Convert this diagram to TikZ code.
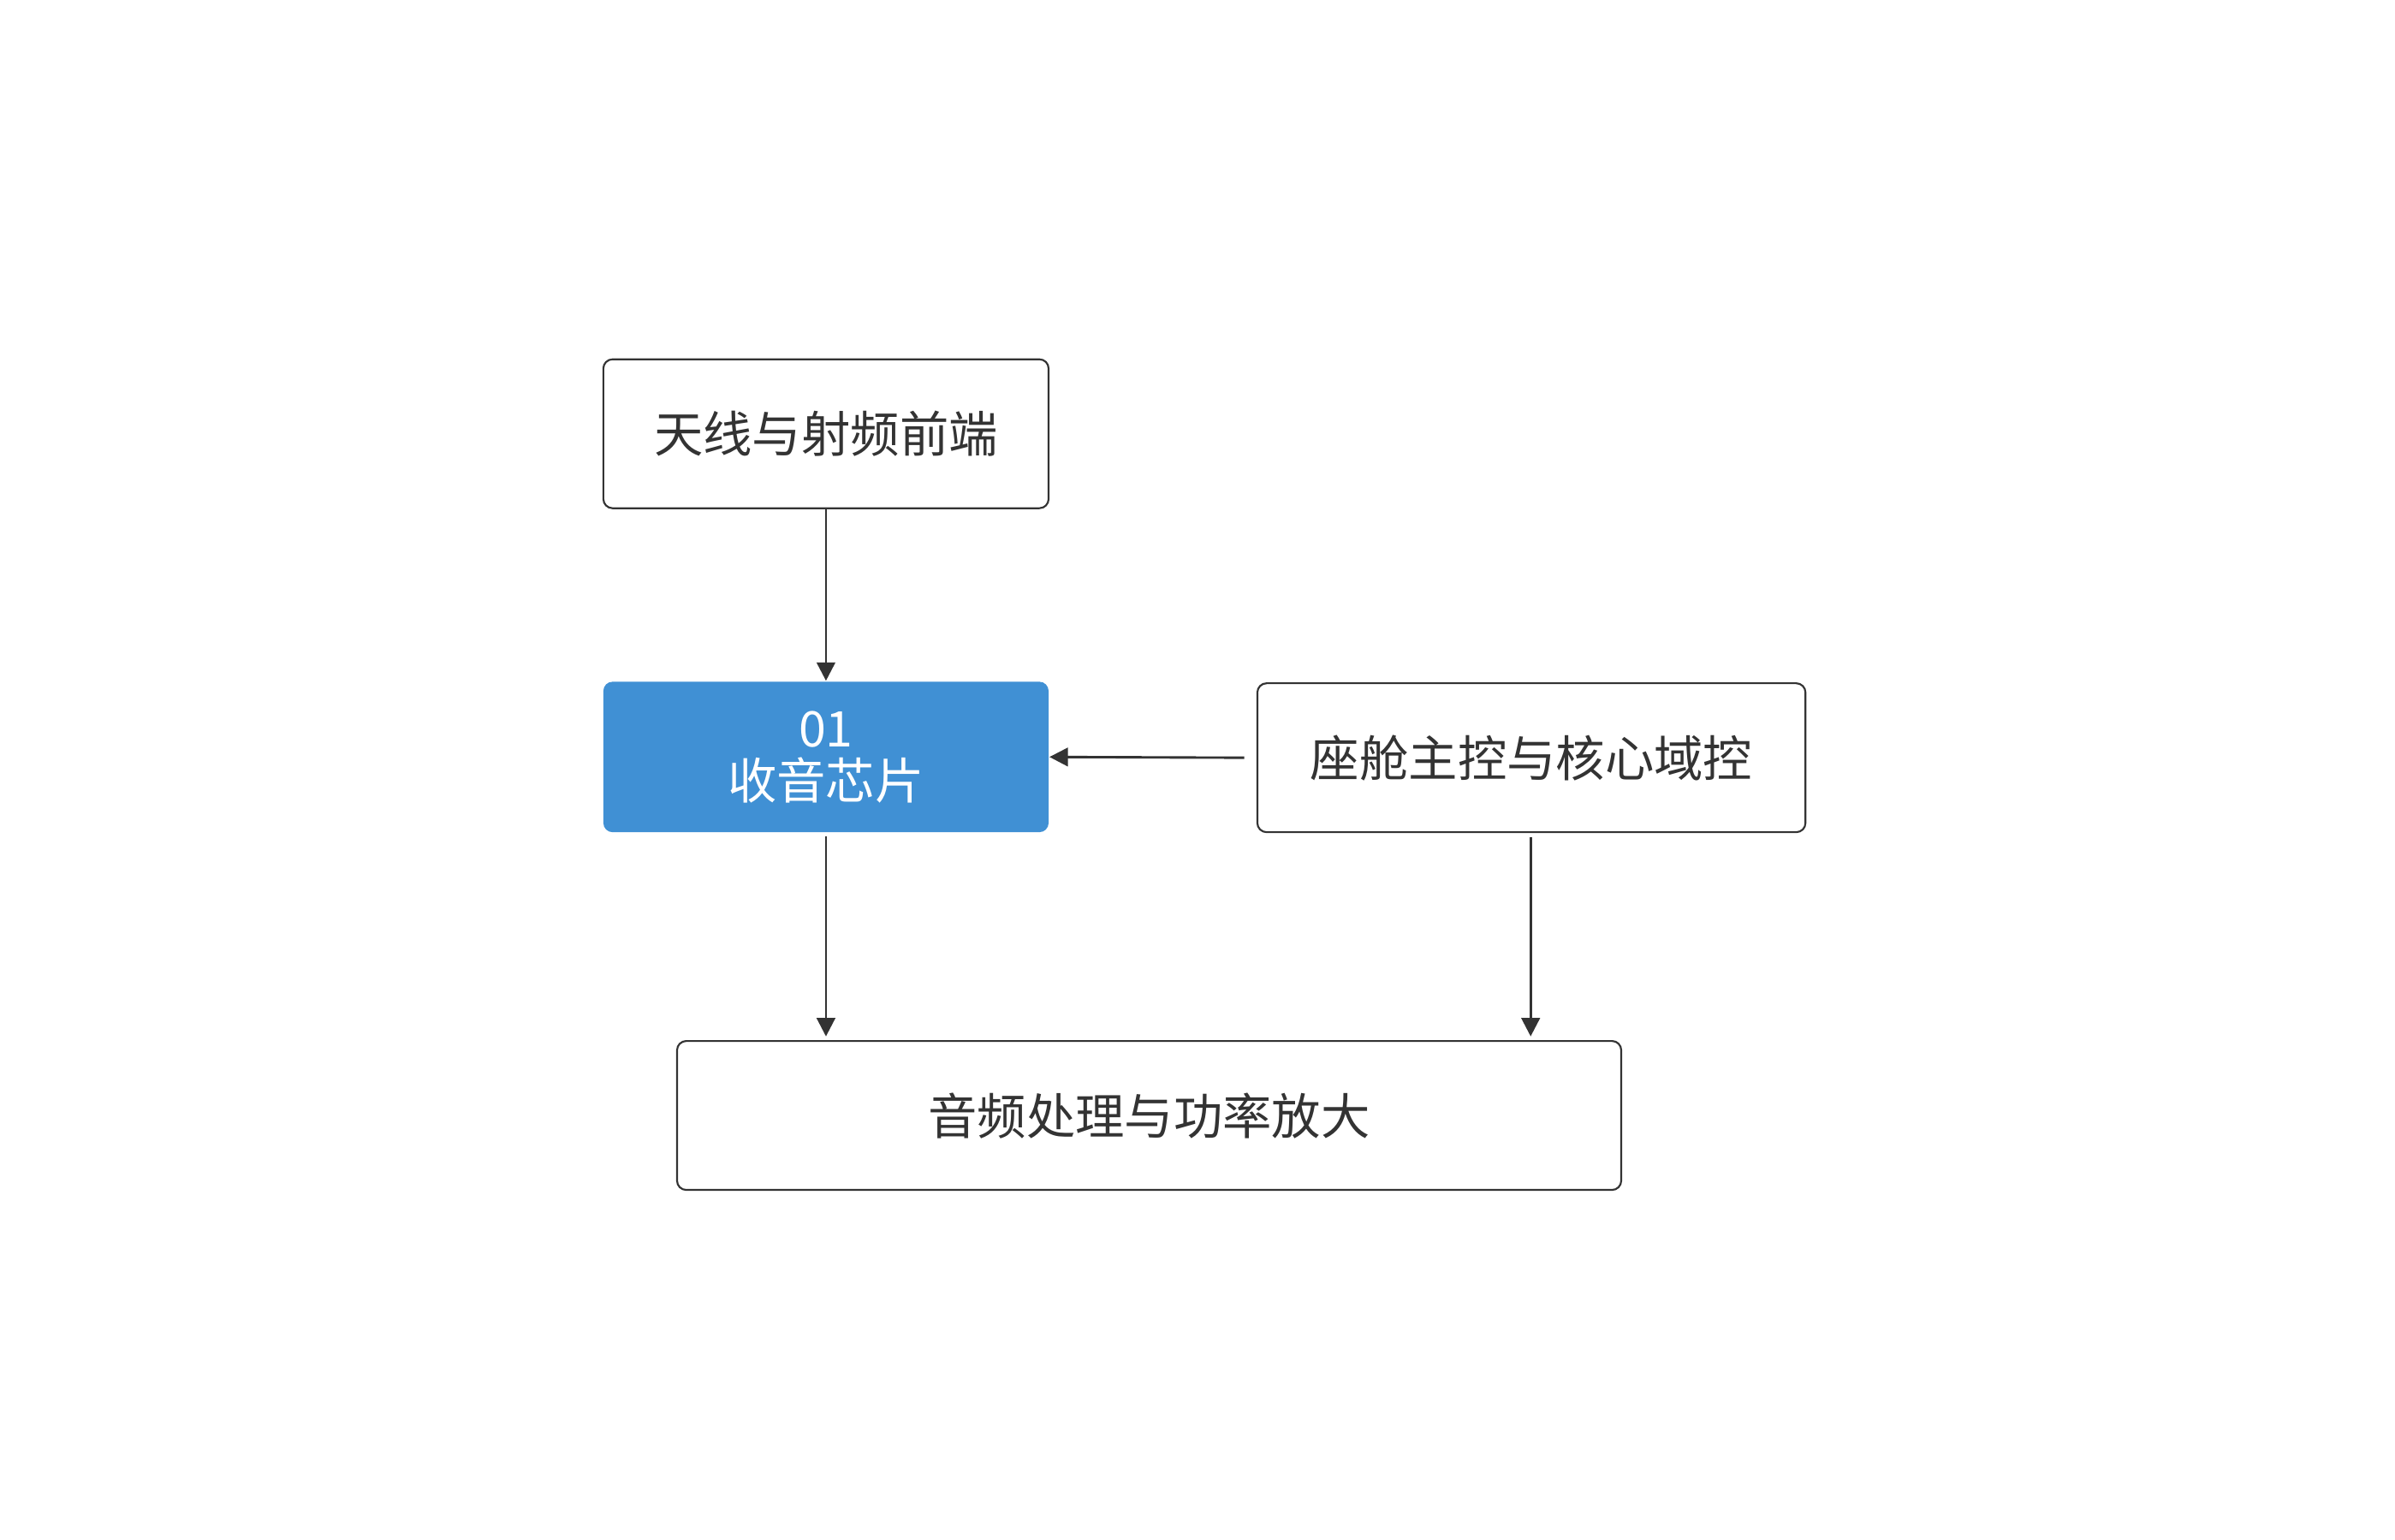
\documentclass[tikz,border=0pt]{standalone}
\usepackage{fontspec}
\setmainfont{Noto Sans CJK SC}
\usetikzlibrary{arrows.meta}
\begin{document}
\begin{tikzpicture}[x=0.5pt,y=-0.5pt,
  box/.style={draw=black!80,line width=0.6pt,rounded corners=3pt,fill=white,inner sep=0pt,font=\fontsize{16}{18}\selectfont,text=black!80},
  arr/.style={draw=black!80,line width=0.8pt,-{Triangle[length=6pt,width=6pt]}}]
\useasboundingbox (0,0) rectangle (1560,1003);
\node[box,minimum width=145pt,minimum height=48.5pt] (a) at (538,282.5) {天线与射频前端};
\node[box,draw=none,fill=blue!45!cyan!60!black!70!white,fill={rgb,255:red,64;green,144;blue,212},minimum width=145pt,minimum height=49pt,text=white,align=center,font=\fontsize{16}{17}\selectfont] (b) at (538,493) {01\\收音芯片};
\node[box,minimum width=178.5pt,minimum height=48.5pt] (c) at (997.5,493.5) {座舱主控与核心域控};
\node[box,minimum width=307.5pt,minimum height=48.5pt] (d) at (748.5,726.5) {音频处理与功率放大};
\draw[arr] (a.south) -- (b.north);
\draw[arr] (b.south) ++(0,2) coordinate (bs) -- (538,675) coordinate (bd);
\draw[arr] ([xshift=-4pt]c.west) -- (b.east);
\draw[arr] (997,545) coordinate (cs) -- (997,675) coordinate (cd);
\end{tikzpicture}
\end{document}
